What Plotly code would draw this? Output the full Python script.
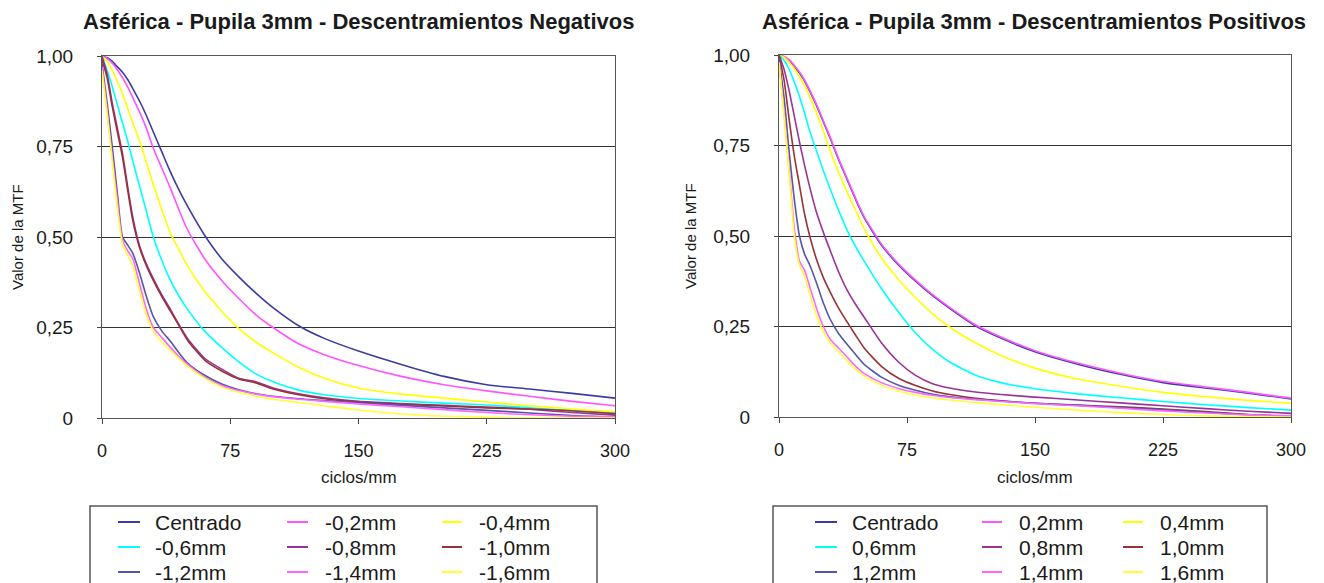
import plotly.graph_objects as go

# ---------------- data ----------------
FREQ = [0, 3, 6, 9, 12, 15, 18, 22, 26, 30, 35, 40, 45, 50, 60, 70, 80, 90, 100,
        115, 130, 150, 175, 200, 225, 250, 275, 300]

X_TICKS = [0, 75, 150, 225, 300]
X_TICK_TEXT = ["0", "75", "150", "225", "300"]
Y_TICKS = [0, 0.25, 0.5, 0.75, 1.0]
Y_TICK_TEXT = ["0", "0,25", "0,50", "0,75", "1,00"]

NEG_NAMES = ["Centrado", "-0,2mm", "-0,4mm", "-0,6mm", "-0,8mm", "-1,0mm",
             "-1,2mm", "-1,4mm", "-1,6mm"]
POS_NAMES = ["Centrado", "0,2mm", "0,4mm", "0,6mm", "0,8mm", "1,0mm",
             "1,2mm", "1,4mm", "1,6mm"]
COLORS = ["#3C3CA0", "#FF55FF", "#FFFF00", "#00FFFF", "#993399", "#993333",
          "#5555AA", "#FF66FF", "#FFFF33"]

# Descentramientos negativos
NEG_C = [1.0, 0.995, 0.985, 0.97, 0.955, 0.935, 0.91, 0.875, 0.835, 0.79, 0.735, 0.68, 0.63, 0.585,
         0.505, 0.44, 0.39, 0.345, 0.305, 0.255, 0.22, 0.185, 0.148, 0.115, 0.092, 0.08, 0.068, 0.055]
NEG_02 = [1.0, 0.993, 0.98, 0.962, 0.94, 0.915, 0.885, 0.845, 0.8, 0.745, 0.69, 0.635, 0.575, 0.52,
          0.44, 0.38, 0.33, 0.285, 0.25, 0.205, 0.175, 0.145, 0.115, 0.092, 0.075, 0.06, 0.046, 0.034]
NEG_04 = [1.0, 0.985, 0.96, 0.93, 0.895, 0.855, 0.815, 0.765, 0.705, 0.645, 0.575, 0.51, 0.465, 0.42,
          0.35, 0.295, 0.247, 0.21, 0.18, 0.14, 0.11, 0.083, 0.066, 0.055, 0.044, 0.034, 0.025, 0.017]
NEG_06 = [1.0, 0.96, 0.915, 0.865, 0.815, 0.765, 0.71, 0.64, 0.57, 0.5, 0.435, 0.38, 0.337, 0.3,
          0.24, 0.195, 0.155, 0.122, 0.1, 0.077, 0.064, 0.054, 0.047, 0.041, 0.036, 0.028, 0.02, 0.012]
NEG_08 = [1.0, 0.95, 0.87, 0.8, 0.73, 0.64, 0.555, 0.475, 0.425, 0.385, 0.34, 0.3, 0.258, 0.22,
          0.165, 0.135, 0.11, 0.1, 0.083, 0.067, 0.056, 0.046, 0.04, 0.035, 0.03, 0.024, 0.015, 0.008]
NEG_10 = [0.99, 0.94, 0.86, 0.79, 0.72, 0.63, 0.545, 0.47, 0.42, 0.38, 0.335, 0.295, 0.255, 0.215,
          0.16, 0.13, 0.108, 0.097, 0.08, 0.064, 0.053, 0.044, 0.038, 0.033, 0.028, 0.025, 0.02, 0.012]
NEG_12 = [0.98, 0.87, 0.75, 0.62, 0.5, 0.478, 0.455, 0.4, 0.335, 0.28, 0.24, 0.212, 0.18, 0.152,
          0.118, 0.094, 0.078, 0.067, 0.06, 0.053, 0.048, 0.042, 0.035, 0.028, 0.021, 0.014, 0.007, 0.003]
NEG_14 = [0.97, 0.85, 0.72, 0.6, 0.49, 0.462, 0.44, 0.37, 0.3, 0.25, 0.222, 0.195, 0.17, 0.148,
          0.113, 0.09, 0.076, 0.066, 0.059, 0.052, 0.046, 0.039, 0.031, 0.023, 0.015, 0.009, 0.005, 0.003]
NEG_16 = [0.96, 0.84, 0.71, 0.58, 0.48, 0.45, 0.42, 0.35, 0.285, 0.24, 0.21, 0.187, 0.165, 0.143,
          0.11, 0.086, 0.071, 0.06, 0.052, 0.043, 0.034, 0.022, 0.011, 0.005, 0.002, 0.0, 0.0, 0.0]

# Descentramientos positivos
POS_C = [1.0, 0.995, 0.985, 0.968, 0.95, 0.928, 0.9, 0.86, 0.815, 0.77, 0.71, 0.655, 0.6, 0.55,
         0.475, 0.42, 0.375, 0.335, 0.3, 0.252, 0.218, 0.18, 0.146, 0.118, 0.095, 0.08, 0.066, 0.05]
POS_02 = [1.0, 0.996, 0.987, 0.971, 0.953, 0.931, 0.903, 0.863, 0.818, 0.773, 0.713, 0.658, 0.603, 0.553,
          0.478, 0.423, 0.378, 0.338, 0.303, 0.255, 0.221, 0.183, 0.149, 0.121, 0.098, 0.083, 0.068, 0.052]
POS_04 = [1.0, 0.993, 0.98, 0.962, 0.94, 0.915, 0.885, 0.84, 0.79, 0.735, 0.675, 0.62, 0.57, 0.52,
          0.44, 0.38, 0.33, 0.285, 0.248, 0.205, 0.17, 0.135, 0.105, 0.085, 0.068, 0.056, 0.046, 0.038]
POS_06 = [1.0, 0.985, 0.96, 0.925, 0.885, 0.84, 0.79, 0.735, 0.68, 0.63, 0.57, 0.515, 0.47, 0.43,
          0.355, 0.29, 0.232, 0.187, 0.152, 0.116, 0.095, 0.078, 0.064, 0.053, 0.043, 0.034, 0.026, 0.019]
POS_08 = [1.0, 0.96, 0.9, 0.83, 0.76, 0.695, 0.635, 0.565, 0.51, 0.46, 0.4, 0.35, 0.31, 0.275,
          0.205, 0.152, 0.115, 0.092, 0.08, 0.069, 0.062, 0.055, 0.047, 0.039, 0.031, 0.023, 0.016, 0.01]
POS_10 = [1.0, 0.93, 0.82, 0.72, 0.64, 0.56, 0.5, 0.435, 0.385, 0.345, 0.3, 0.262, 0.225, 0.19,
          0.14, 0.107, 0.087, 0.072, 0.062, 0.052, 0.045, 0.038, 0.033, 0.028, 0.022, 0.015, 0.007, 0.002]
POS_12 = [0.99, 0.88, 0.73, 0.6, 0.5, 0.45, 0.42, 0.37, 0.315, 0.27, 0.23, 0.2, 0.172, 0.145,
          0.11, 0.088, 0.074, 0.063, 0.056, 0.049, 0.044, 0.038, 0.032, 0.026, 0.02, 0.013, 0.006, 0.003]
POS_14 = [0.98, 0.84, 0.68, 0.52, 0.43, 0.405, 0.36, 0.3, 0.25, 0.215, 0.19, 0.165, 0.14, 0.12,
          0.095, 0.079, 0.068, 0.06, 0.054, 0.048, 0.043, 0.037, 0.031, 0.024, 0.017, 0.011, 0.006, 0.003]
POS_16 = [0.98, 0.83, 0.67, 0.5, 0.42, 0.39, 0.34, 0.28, 0.235, 0.205, 0.18, 0.155, 0.132, 0.113,
          0.088, 0.072, 0.061, 0.053, 0.047, 0.04, 0.034, 0.027, 0.019, 0.012, 0.007, 0.003, 0.001, 0.0]

NEG_SERIES = [NEG_C, NEG_02, NEG_04, NEG_06, NEG_08, NEG_10, NEG_12, NEG_14, NEG_16]
POS_SERIES = [POS_C, POS_02, POS_04, POS_06, POS_08, POS_10, POS_12, POS_14, POS_16]

TITLE_NEG = "Asférica - Pupila 3mm - Descentramientos Negativos"
TITLE_POS = "Asférica - Pupila 3mm - Descentramientos Positivos"
X_TITLE = "ciclos/mm"
Y_TITLE = "Valor de la MTF"

# ---------------- figure ----------------
W, H = 1324, 583
FONT = "Arial, Liberation Sans, sans-serif"
TXT = "#1a1a1a"


def px_x(p):
    return p / W


def px_y(p):
    return 1 - p / H


fig = go.Figure()

for names, series, xa, ya in [(NEG_NAMES, NEG_SERIES, "x", "y"), (POS_NAMES, POS_SERIES, "x2", "y2")]:
    for name, vals, col in zip(names, series, COLORS):
        fig.add_trace(go.Scatter(
            x=FREQ, y=vals, name=name, mode="lines", xaxis=xa, yaxis=ya,
            line=dict(color=col, width=1.6, shape="spline", smoothing=0.6),
            showlegend=False, hoverinfo="x+y+name"))

# plot areas (window pixels): left, right, top, bottom
AREAS = [(102, 615, 56, 418), (779, 1291, 55, 417)]


def xaxis_cfg(area):
    l, r, t, b = area
    return dict(domain=[px_x(l), px_x(r)], range=[0, 300], tickvals=X_TICKS, ticktext=X_TICK_TEXT,
                ticks="outside", ticklen=5, tickcolor="#444", showgrid=False, zeroline=False,
                showline=True, linecolor="#555", linewidth=1, mirror=True, automargin=False,
                tickfont=dict(family=FONT, size=18, color=TXT), ticklabelstandoff=11,
                fixedrange=True)


def yaxis_cfg(area, anchor):
    l, r, t, b = area
    return dict(domain=[px_y(b), px_y(t)], range=[0, 1], tickvals=Y_TICKS, ticktext=Y_TICK_TEXT,
                ticks="outside", ticklen=4, tickcolor="#444", showgrid=True, gridcolor="#333",
                gridwidth=1.2, zeroline=False, showline=True, linecolor="#555", linewidth=1,
                mirror=True, anchor=anchor, automargin=False,
                tickfont=dict(family=FONT, size=19, color=TXT), ticklabelstandoff=20,
                fixedrange=True)


fig.update_layout(
    width=W, height=H, margin=dict(l=0, r=0, t=0, b=0, pad=0, autoexpand=False),
    paper_bgcolor="white", plot_bgcolor="white", showlegend=False,
    xaxis=dict(xaxis_cfg(AREAS[0]), anchor="y"),
    yaxis=yaxis_cfg(AREAS[0], "x"),
    xaxis2=dict(xaxis_cfg(AREAS[1]), anchor="y2"),
    yaxis2=yaxis_cfg(AREAS[1], "x2"),
)

annotations = []
shapes = []

# titles and axis titles
for (title, cx), area, ytx in [((TITLE_NEG, 358), AREAS[0], 17), ((TITLE_POS, 1034), AREAS[1], 691)]:
    l, r, t, b = area
    annotations.append(dict(text="<b>%s</b>" % title, x=px_x(cx), y=px_y(22), xref="paper", yref="paper",
                            xanchor="center", yanchor="middle", showarrow=False,
                            font=dict(family=FONT, size=22, color=TXT)))
    annotations.append(dict(text=X_TITLE, x=px_x((l + r) / 2), y=px_y(477), xref="paper", yref="paper",
                            xanchor="center", yanchor="middle", showarrow=False,
                            font=dict(family=FONT, size=17, color=TXT)))
    annotations.append(dict(text=Y_TITLE, x=px_x(ytx), y=px_y((t + b) / 2), xref="paper", yref="paper",
                            xanchor="center", yanchor="middle", showarrow=False, textangle=-90,
                            font=dict(family=FONT, size=15, color=TXT)))

# manual legends (3 columns x 3 rows)
LEG_ROWS = [522, 547, 572]
LEGENDS = [
    dict(names=NEG_NAMES, box=(90, 597), lines=[(118, 140), (287, 308), (442, 462)], text=[153, 323, 477]),
    dict(names=POS_NAMES, box=(773, 1267), lines=[(815, 837), (982, 1002), (1123, 1143)], text=[850, 1017, 1158]),
]
for leg in LEGENDS:
    bx0, bx1 = leg["box"]
    shapes.append(dict(type="rect", xref="paper", yref="paper", x0=px_x(bx0), x1=px_x(bx1),
                       y0=px_y(600), y1=px_y(506), line=dict(color="#555", width=1.5),
                       fillcolor="rgba(0,0,0,0)"))
    for i, name in enumerate(leg["names"]):
        row, col = divmod(i, 3)
        yy = LEG_ROWS[row]
        lx0, lx1 = leg["lines"][col]
        shapes.append(dict(type="line", xref="paper", yref="paper", x0=px_x(lx0), x1=px_x(lx1),
                           y0=px_y(yy), y1=px_y(yy), line=dict(color=COLORS[i], width=2)))
        annotations.append(dict(text=name, x=px_x(leg["text"][col]), y=px_y(yy), xref="paper", yref="paper",
                                xanchor="left", yanchor="middle", showarrow=False,
                                font=dict(family=FONT, size=21, color=TXT)))

fig.update_layout(annotations=annotations, shapes=shapes)

fig.write_html("out.html")
